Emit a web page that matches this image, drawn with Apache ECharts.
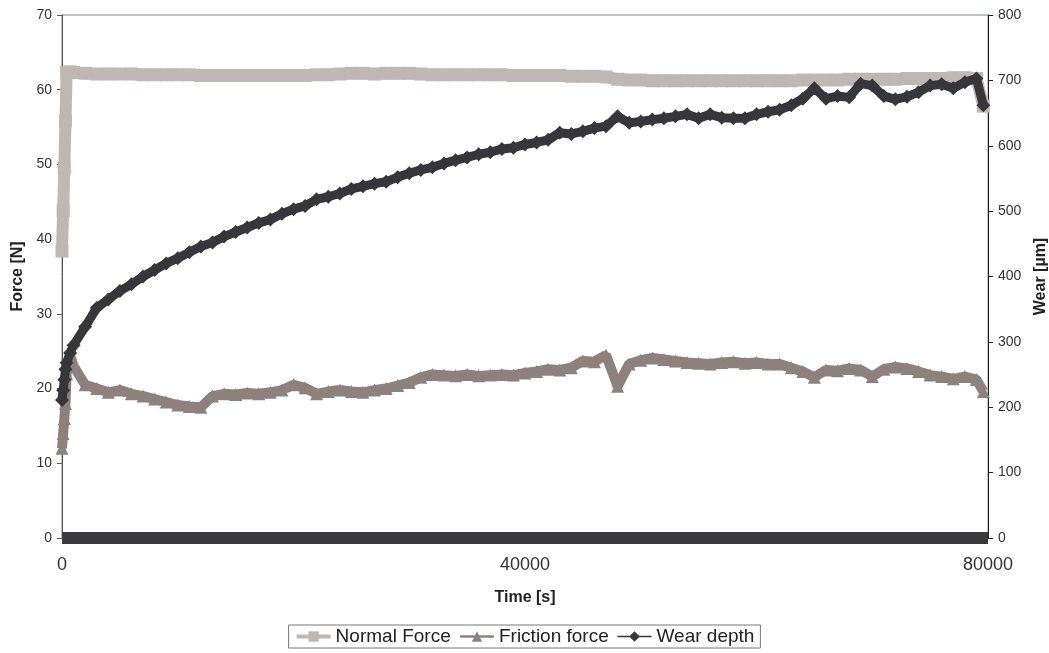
<!DOCTYPE html>
<html>
<head>
<meta charset="utf-8">
<script src="https://cdn.jsdelivr.net/npm/echarts@6/dist/echarts.min.js"></script>
<style>
  html, body { margin: 0; padding: 0; background: #fff; }
  #chart { width: 1049px; height: 653px; }
</style>
</head>
<body>
<div id="chart"></div>
<script>
// Sampling times [s]
const timeS = [0, 100, 200, 300, 400, 700,
  1000, 2000, 3000, 4000, 5000, 6000, 7000, 8000, 9000, 10000,
  11000, 12000, 13000, 14000, 15000, 16000, 17000, 18000, 19000, 20000,
  21000, 22000, 23000, 24000, 25000, 26000, 27000, 28000, 29000, 30000,
  31000, 32000, 33000, 34000, 35000, 36000, 37000, 38000, 39000, 40000,
  41000, 42000, 43000, 44000, 45000, 46000, 47000, 48000, 49000, 50000,
  51000, 52000, 53000, 54000, 55000, 56000, 57000, 58000, 59000, 60000,
  61000, 62000, 63000, 64000, 65000, 66000, 67000, 68000, 69000, 70000,
  71000, 72000, 73000, 74000, 75000, 76000, 77000, 78000, 79000,
  79600];

// Normal force [N]
const normalForce = [38.4, 43.8, 49.5, 55.8, 62.3, 62.4,
  62.3, 62.2, 62.1, 62.1, 62.1, 62.1, 62.0, 62.0, 62.0, 62.0,
  62.0, 61.9, 61.9, 61.9, 61.9, 61.9, 61.9, 61.9, 61.9, 61.9,
  61.9, 62.0, 62.0, 62.1, 62.2, 62.2, 62.1, 62.2, 62.2, 62.2,
  62.1, 62.0, 62.0, 62.0, 62.0, 62.0, 62.0, 62.0, 61.9, 61.9,
  61.9, 61.9, 61.9, 61.8, 61.8, 61.8, 61.7, 61.4, 61.3, 61.3,
  61.2, 61.2, 61.2, 61.2, 61.2, 61.2, 61.2, 61.2, 61.2, 61.2,
  61.2, 61.2, 61.2, 61.3, 61.3, 61.3, 61.3, 61.4, 61.4, 61.4,
  61.4, 61.4, 61.5, 61.5, 61.5, 61.5, 61.6, 61.6, 61.5,
  57.8];

// Friction force [N]
const frictionForce = [12, 14, 16, 18, 22, 24.5,
  23, 20.5, 20, 19.5, 19.8, 19.3, 19, 18.6, 18.2, 17.8,
  17.6, 17.5, 19, 19.3, 19.2, 19.4, 19.3, 19.5, 19.8, 20.5,
  20.1, 19.3, 19.6, 19.8, 19.6, 19.5, 19.8, 20.0, 20.4, 20.8,
  21.5, 21.9, 21.8, 21.7, 21.9, 21.7, 21.8, 21.9, 21.8, 22.1,
  22.3, 22.6, 22.5, 22.8, 23.7, 23.6, 24.5, 20.3, 23.3, 23.8,
  24.1, 23.9, 23.7, 23.5, 23.4, 23.3, 23.5, 23.6, 23.4, 23.5,
  23.3, 23.3, 22.8, 22.3, 21.5, 22.5, 22.4, 22.7, 22.5, 21.6,
  22.6, 22.9, 22.7, 22.3, 21.8, 21.6, 21.3, 21.6, 21.2,
  19.6];

// Wear depth [µm]
const wearDepth = [211, 226, 242, 258, 268, 283,
  295, 323, 352, 365, 378, 388, 400, 410, 420, 428,
  437, 446, 452, 461, 468, 475, 482, 487, 496, 503,
  508, 518, 522, 527, 534, 538, 542, 545, 552, 558,
  563, 567, 573, 578, 582, 587, 590, 595, 597, 602,
  605, 609, 620, 618, 622, 627, 630, 645, 635, 637,
  640, 642, 645, 648, 642, 648, 643, 642, 642, 648,
  652, 655, 662, 672, 688, 672, 676, 674, 695, 692,
  676, 671, 675, 682, 692, 694, 688, 697, 703,
  662];

const pair = vals => timeS.map((t, i) => [t, vals[i]]);

const FONT = '"Liberation Sans", Arial, sans-serif';
const cNormal = '#c0b6b3';
const cFriction = '#8e807c';
const cWear = '#37363b';

const chart = echarts.init(document.getElementById('chart'), null, { renderer: 'canvas' });

chart.setOption({
  animation: false,
  backgroundColor: '#fff',
  textStyle: { fontFamily: FONT },
  grid: {
    left: 62, right: 61, top: 15, bottom: 115,
    outerBoundsMode: 'none',
    containLabel: false,
    show: true, borderColor: '#8a807d', borderWidth: 1, backgroundColor: 'transparent'
  },
  legend: {
    top: 625,
    left: 'center',
    itemWidth: 34,
    itemHeight: 13,
    itemGap: 8,
    padding: [2, 6, 2, 6],
    borderColor: '#777',
    borderWidth: 1,
    textStyle: { fontFamily: FONT, fontSize: 19, color: '#222' },
    data: [
      { name: 'Normal Force', lineStyle: { width: 4 } },
      { name: 'Friction force', lineStyle: { width: 2.5 } },
      { name: 'Wear depth', lineStyle: { width: 1.5 } }
    ]
  },
  xAxis: {
    type: 'value',
    min: 0, max: 80000, interval: 40000,
    name: 'Time [s]',
    nameLocation: 'middle',
    nameGap: 52,
    nameTextStyle: { fontFamily: FONT, fontSize: 16, fontWeight: 'bold', color: '#222' },
    axisLine: { show: true, lineStyle: { color: '#3a393e', width: 12, cap: 'butt' } },
    axisTick: { show: false },
    axisLabel: {
      fontFamily: FONT, fontSize: 18, color: '#333', margin: 18,
      formatter: v => String(v)
    },
    splitLine: { show: false }
  },
  yAxis: [
    {
      type: 'value',
      min: 0, max: 70, interval: 10,
      name: 'Force [N]',
      nameLocation: 'middle',
      nameGap: 36,
      nameTextStyle: { fontFamily: FONT, fontSize: 16, fontWeight: 'bold', color: '#222' },
      axisLine: { show: true, lineStyle: { color: '#555', width: 1 } },
      axisTick: { show: true, length: 5, lineStyle: { color: '#555' } },
      axisLabel: { fontFamily: FONT, fontSize: 14, color: '#333', margin: 10 },
      splitLine: { show: false }
    },
    {
      type: 'value',
      min: 0, max: 800, interval: 100,
      name: 'Wear [µm]',
      nameLocation: 'middle',
      nameGap: 42,
      nameTextStyle: { fontFamily: FONT, fontSize: 16, fontWeight: 'bold', color: '#222' },
      axisLine: { show: true, lineStyle: { color: '#222', width: 1 } },
      axisTick: { show: true, length: 5, lineStyle: { color: '#222' } },
      axisLabel: { fontFamily: FONT, fontSize: 14, color: '#333', margin: 10 },
      splitLine: { show: false }
    }
  ],
  series: [
    {
      name: 'Normal Force',
      type: 'line',
      yAxisIndex: 0,
      data: pair(normalForce),
      color: cNormal,
      lineStyle: { color: cNormal, width: 12 },
      symbol: 'rect',
      symbolSize: 13,
      showAllSymbol: true,
      itemStyle: { color: cNormal },
      clip: false,
      z: 2
    },
    {
      name: 'Friction force',
      type: 'line',
      yAxisIndex: 0,
      data: pair(frictionForce),
      color: cFriction,
      lineStyle: { color: cFriction, width: 10 },
      symbol: 'triangle',
      symbolSize: 13,
      showAllSymbol: true,
      itemStyle: { color: cFriction },
      clip: false,
      z: 3
    },
    {
      name: 'Wear depth',
      type: 'line',
      yAxisIndex: 1,
      data: pair(wearDepth),
      color: cWear,
      lineStyle: { color: cWear, width: 9 },
      symbol: 'diamond',
      symbolSize: 14,
      showAllSymbol: true,
      itemStyle: { color: cWear },
      clip: false,
      z: 4
    }
  ]
});
</script>
</body>
</html>
